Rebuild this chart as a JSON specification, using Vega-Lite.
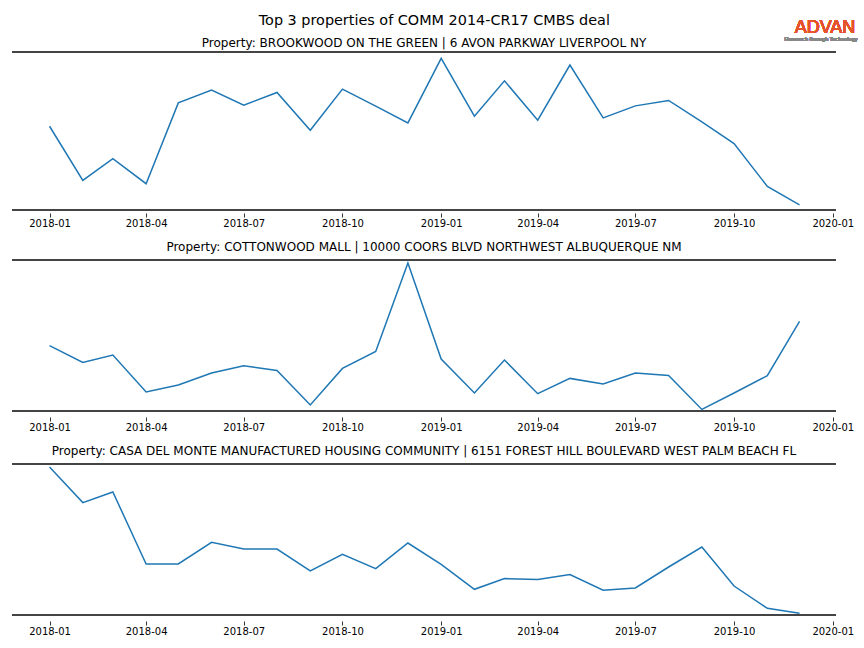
{
  "$schema": "https://vega.github.io/schema/vega-lite/v6.json",
  "background": "white",
  "padding": {"left": 11, "top": 13, "right": 0, "bottom": 0},
  "spacing": 13,
  "config": {
    "view": {"stroke": null},
    "font": "DejaVu Sans",
    "title": {"font": "DejaVu Sans", "fontSize": 12, "fontWeight": "normal", "color": "black", "subtitleFont": "DejaVu Sans", "subtitleColor": "black"},
    "axis": {
      "domain": false,
      "grid": false,
      "offset": 3,
      "tickColor": "black",
      "tickWidth": 0.8,
      "tickSize": 4,
      "labelFont": "DejaVu Sans",
      "labelFontSize": 10,
      "labelColor": "black",
      "labelPadding": 1
    }
  },
  "datasets": {
    "p1": [
      {"month": "2018-01-01", "value": 83.5}, {"month": "2018-02-01", "value": 29.5}, {"month": "2018-03-01", "value": 51.2},
      {"month": "2018-04-01", "value": 26.2}, {"month": "2018-05-01", "value": 106.8}, {"month": "2018-06-01", "value": 119.5},
      {"month": "2018-07-01", "value": 104.5}, {"month": "2018-08-01", "value": 117.2}, {"month": "2018-09-01", "value": 79.5},
      {"month": "2018-10-01", "value": 120.5}, {"month": "2018-11-01", "value": 103.5}, {"month": "2018-12-01", "value": 86.8},
      {"month": "2019-01-01", "value": 151.2}, {"month": "2019-02-01", "value": 93.5}, {"month": "2019-03-01", "value": 128.8},
      {"month": "2019-04-01", "value": 89.5}, {"month": "2019-05-01", "value": 144.5}, {"month": "2019-06-01", "value": 91.8},
      {"month": "2019-07-01", "value": 103.8}, {"month": "2019-08-01", "value": 109.2}, {"month": "2019-09-01", "value": 87.8},
      {"month": "2019-10-01", "value": 66.2}, {"month": "2019-11-01", "value": 23.5}, {"month": "2019-12-01", "value": 5.2}
    ],
    "p2": [
      {"month": "2018-01-01", "value": 65.3}, {"month": "2018-02-01", "value": 48.6}, {"month": "2018-03-01", "value": 56},
      {"month": "2018-04-01", "value": 19}, {"month": "2018-05-01", "value": 26}, {"month": "2018-06-01", "value": 38},
      {"month": "2018-07-01", "value": 45.3}, {"month": "2018-08-01", "value": 40.6}, {"month": "2018-09-01", "value": 6},
      {"month": "2018-10-01", "value": 42.6}, {"month": "2018-11-01", "value": 59.6}, {"month": "2018-12-01", "value": 148},
      {"month": "2019-01-01", "value": 52}, {"month": "2019-02-01", "value": 18}, {"month": "2019-03-01", "value": 51},
      {"month": "2019-04-01", "value": 17.3}, {"month": "2019-05-01", "value": 32.6}, {"month": "2019-06-01", "value": 27},
      {"month": "2019-07-01", "value": 38}, {"month": "2019-08-01", "value": 35.6}, {"month": "2019-09-01", "value": 1.6},
      {"month": "2019-10-01", "value": 18}, {"month": "2019-11-01", "value": 35.3}, {"month": "2019-12-01", "value": 89.6}
    ],
    "p3": [
      {"month": "2018-01-01", "value": 148}, {"month": "2018-02-01", "value": 112.4}, {"month": "2018-03-01", "value": 123},
      {"month": "2018-04-01", "value": 51}, {"month": "2018-05-01", "value": 51}, {"month": "2018-06-01", "value": 72.7},
      {"month": "2018-07-01", "value": 66}, {"month": "2018-08-01", "value": 66}, {"month": "2018-09-01", "value": 44},
      {"month": "2018-10-01", "value": 60.7}, {"month": "2018-11-01", "value": 46.4}, {"month": "2018-12-01", "value": 72},
      {"month": "2019-01-01", "value": 50.7}, {"month": "2019-02-01", "value": 25.7}, {"month": "2019-03-01", "value": 36.4},
      {"month": "2019-04-01", "value": 35.4}, {"month": "2019-05-01", "value": 40.4}, {"month": "2019-06-01", "value": 24.7},
      {"month": "2019-07-01", "value": 27}, {"month": "2019-08-01", "value": 48}, {"month": "2019-09-01", "value": 68},
      {"month": "2019-10-01", "value": 29}, {"month": "2019-11-01", "value": 6.7}, {"month": "2019-12-01", "value": 1.7}
    ]
  },
  "title": {"text": "Top 3 properties of COMM 2014-CR17 CMBS deal", "fontSize": 14.4, "anchor": "middle", "offset": -9},
  "vconcat": [
    {
      "width": 824,
      "height": 158,
      "title": {"text": "Property: BROOKWOOD ON THE GREEN | 6 AVON PARKWAY LIVERPOOL NY", "frame": "group", "anchor": "middle", "offset": -31},
      "data": {"name": "p1"},
      "encoding": {
        "x": {"field": "month", "type": "temporal", "title": null,
              "scale": {"type": "utc", "domain": [{"year": 2017, "month": 11, "date": 27, "utc": true}, {"year": 2020, "month": 1, "date": 4, "utc": true}]},
              "axis": {"format": "%Y-%m", "tickCount": {"interval": "month", "step": 3}}},
        "y": {"field": "value", "type": "quantitative", "scale": {"domain": [0, 157.5], "nice": false, "zero": false}, "axis": null}
      },
      "layer": [
        {"mark": {"type": "rule", "color": "#444444", "strokeWidth": 1.3}, "encoding": {"x": null, "y": {"datum": 157.5}}},
        {"mark": {"type": "rule", "color": "#444444", "strokeWidth": 1.6}, "encoding": {"x": null, "y": {"datum": 0}}},
        {"mark": {"type": "line", "color": "#1f77b4", "strokeWidth": 1.5}},
        {"mark": {"type": "text", "align": "right", "baseline": "alphabetic", "font": "Liberation Sans", "fontSize": 18, "color": "#E5522B"},
         "encoding": {"x": {"datum": {"year": 2020, "month": 1, "date": 22, "utc": true}, "type": "temporal"}, "y": {"datum": 176}, "text": {"value": "ADVAN"}}},
        {"mark": {"type": "text", "align": "right", "baseline": "alphabetic", "font": "Liberation Sans", "fontSize": 5.5, "color": "#888888"},
         "encoding": {"x": {"datum": {"year": 2020, "month": 1, "date": 24, "utc": true}, "type": "temporal"}, "y": {"datum": 168}, "text": {"value": "Research through Technology"}}}
      ]
    },
    {
      "spacing": 13,
      "vconcat": [
        {
          "width": 824,
          "height": 151,
          "title": {"text": "Property: COTTONWOOD MALL | 10000 COORS BLVD NORTHWEST ALBUQUERQUE NM", "frame": "group", "anchor": "middle", "offset": 5},
          "data": {"name": "p2"},
          "encoding": {
            "x": {"field": "month", "type": "temporal", "title": null,
                  "scale": {"type": "utc", "domain": [{"year": 2017, "month": 11, "date": 27, "utc": true}, {"year": 2020, "month": 1, "date": 4, "utc": true}]},
                  "axis": {"format": "%Y-%m", "tickCount": {"interval": "month", "step": 3}, "offset": 6}},
            "y": {"field": "value", "type": "quantitative", "scale": {"domain": [0, 151], "nice": false, "zero": false}, "axis": null}
          },
          "layer": [
            {"mark": {"type": "rule", "color": "#444444", "strokeWidth": 1.6}, "encoding": {"x": null, "y": {"datum": 151}}},
            {"mark": {"type": "rule", "color": "#444444", "strokeWidth": 1.6}, "encoding": {"x": null, "y": {"datum": 0}}},
            {"mark": {"type": "line", "color": "#1f77b4", "strokeWidth": 1.5}}
          ]
        },
        {
          "width": 824,
          "height": 151,
          "title": {"text": "Property: CASA DEL MONTE MANUFACTURED HOUSING COMMUNITY | 6151 FOREST HILL BOULEVARD WEST PALM BEACH FL", "frame": "group", "anchor": "middle", "offset": 5},
          "data": {"name": "p3"},
          "encoding": {
            "x": {"field": "month", "type": "temporal", "title": null,
                  "scale": {"type": "utc", "domain": [{"year": 2017, "month": 11, "date": 27, "utc": true}, {"year": 2020, "month": 1, "date": 4, "utc": true}]},
                  "axis": {"format": "%Y-%m", "tickCount": {"interval": "month", "step": 3}, "offset": 6}},
            "y": {"field": "value", "type": "quantitative", "scale": {"domain": [0, 151], "nice": false, "zero": false}, "axis": null}
          },
          "layer": [
            {"mark": {"type": "rule", "color": "#444444", "strokeWidth": 1.6}, "encoding": {"x": null, "y": {"datum": 151}}},
            {"mark": {"type": "rule", "color": "#444444", "strokeWidth": 1.6}, "encoding": {"x": null, "y": {"datum": 0}}},
            {"mark": {"type": "line", "color": "#1f77b4", "strokeWidth": 1.5}}
          ]
        }
      ]
    }
  ]
}
